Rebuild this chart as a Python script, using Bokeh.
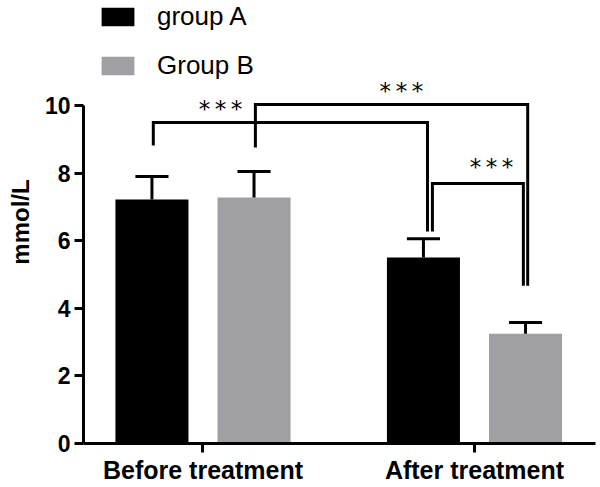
from bokeh.plotting import figure
from bokeh.models import Range1d, FixedTicker, Legend, LegendItem, ColumnDataSource
from bokeh.core.properties import value
from bokeh.embed import file_html
from bokeh.resources import INLINE

# ---------------- data ----------------
categories = ["Before treatment", "After treatment"]
series_names = ["group A", "Group B"]
group_a_mean = [7.22, 5.50]
group_a_err = [0.68, 0.56]
group_b_mean = [7.28, 3.25]
group_b_err = [0.77, 0.33]
y_ticks = [0, 2, 4, 6, 8, 10]
sig_text = ["*\u2009*\u2009*", "*\u2009*\u2009*", "*\u2009*\u2009*"]

# ---------------- layout / style ----------------
group_pos = [0, 1]
bar_offset = 0.188
bar_width = 0.269
cap_half = 0.061
FONT = "Liberation Sans"
GRAY = "#a0a0a4"

# bracket specs: (left bar idx, right bar idx, top y, left leg bottom, right leg bottom, left dx, right dx)
brackets = [
    (0, 2, 9.50, 8.82, 6.27, 0.005, 0.015),
    (1, 3, 10.03, 8.76, 4.67, 0.005, 0.008),
    (2, 3, 7.69, 6.27, 4.67, 0.033, -0.008),
]
# significance label centres (x, y) in data units
sig_x = [0.0645, 0.731, 1.0626]
sig_y = [10.01, 10.53, 8.27]

p = figure(width=600, height=487, output_backend="svg", toolbar_location=None,
           x_range=Range1d(-0.4401, 1.4457), y_range=Range1d(0, 13.107),
           min_border_left=83, min_border_right=5, min_border_top=0, min_border_bottom=44)
p.outline_line_color = None
p.xgrid.visible = False
p.ygrid.visible = False
p.background_fill_color = "white"

xa = [g - bar_offset for g in group_pos]
xb = [g + bar_offset for g in group_pos]

src_a = ColumnDataSource(dict(x=xa, top=group_a_mean, up=[m + e for m, e in zip(group_a_mean, group_a_err)]))
src_b = ColumnDataSource(dict(x=xb, top=group_b_mean, up=[m + e for m, e in zip(group_b_mean, group_b_err)]))

ra = p.vbar(x="x", top="top", width=bar_width, bottom=0, source=src_a, fill_color="black", line_color=None)
rb = p.vbar(x="x", top="top", width=bar_width, bottom=0, source=src_b, fill_color=GRAY, line_color=None)

for src in (src_a, src_b):
    d = src.data
    p.segment(x0=d["x"], y0=d["top"], x1=d["x"], y1=d["up"], line_color="black", line_width=3)
    p.segment(x0=[x - cap_half for x in d["x"]], y0=d["up"], x1=[x + cap_half for x in d["x"]], y1=d["up"],
              line_color="black", line_width=3)

bar_x = [xa[0], xb[0], xa[1], xb[1]]
bxs, bys = [], []
for li, ri, top, lb, rbm, ldx, rdx in brackets:
    x0 = bar_x[li] + ldx
    x1 = bar_x[ri] + rdx
    bxs.append([x0, x0, x1, x1])
    bys.append([lb, top, top, rbm])
p.multi_line(xs=bxs, ys=bys, line_color="black", line_width=3, line_join="miter")

p.text(x=sig_x, y=sig_y, text=sig_text, text_font=value("DejaVu Sans"), text_font_size="23px",
       text_align="center", text_baseline="alphabetic", y_offset=3.5, text_color="black")

# axes
yax = p.yaxis[0]
yax.ticker = FixedTicker(ticks=y_ticks)
yax.bounds = (0, 10)
yax.axis_line_width = 3
yax.major_tick_line_width = 3
yax.major_tick_out = 9
yax.major_tick_in = 0
yax.minor_tick_line_color = None
yax.major_label_standoff = 4
yax.major_label_text_font = FONT
yax.major_label_text_font_style = "bold"
yax.major_label_text_font_size = "23px"
yax.major_label_text_color = "black"
yax.axis_label = "mmol/L"
yax.axis_label_text_font = FONT
yax.axis_label_text_font_style = "bold"
yax.axis_label_text_font_size = "24px"
yax.axis_label_text_color = "black"
yax.axis_label_standoff = 8

xax = p.xaxis[0]
xax.ticker = FixedTicker(ticks=group_pos)
xax.major_label_overrides = {g: c for g, c in zip(group_pos, categories)}
xax.axis_line_width = 3
xax.major_tick_line_width = 3
xax.major_tick_out = 9
xax.major_tick_in = 0
xax.minor_tick_line_color = None
xax.major_label_standoff = 3
xax.major_label_text_font = FONT
xax.major_label_text_font_style = "bold"
xax.major_label_text_font_size = "25px"
xax.major_label_text_color = "black"

legend = Legend(items=[LegendItem(label=series_names[0], renderers=[ra]),
                       LegendItem(label=series_names[1], renderers=[rb])],
                location=(14, 362), glyph_width=41, glyph_height=23, label_height=23,
                spacing=18, padding=0, margin=0, label_standoff=19,
                label_text_font=FONT, label_text_font_size="26px", label_text_color="black",
                border_line_color=None, background_fill_alpha=0)
p.add_layout(legend)

open("out.html", "w").write(file_html(p, INLINE))
